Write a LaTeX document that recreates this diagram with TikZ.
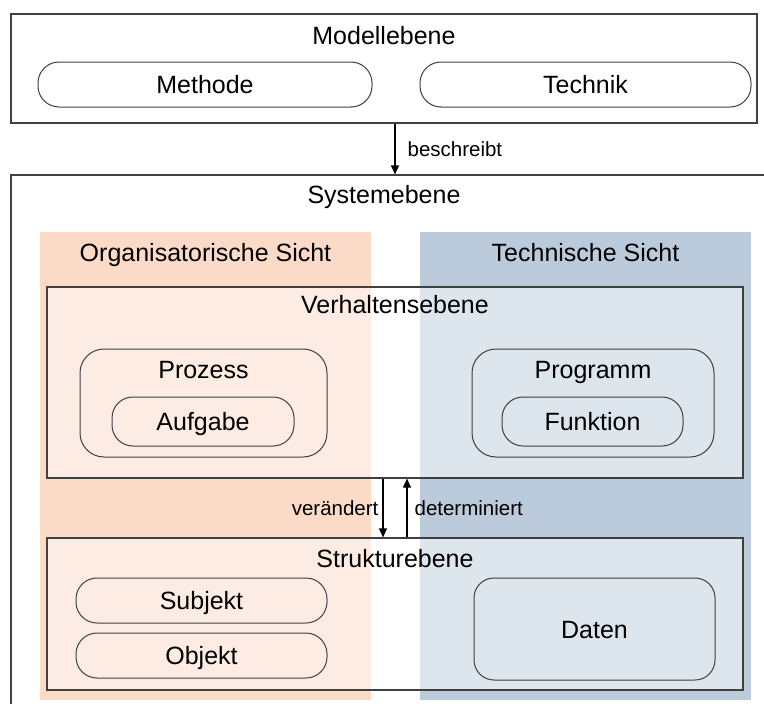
\documentclass[tikz,border=0pt]{standalone}
\usepackage{fontspec}
\setmainfont{Liberation Sans}
\usetikzlibrary{arrows.meta,positioning}
\definecolor{orgcolor}{RGB}{251,218,199}
\definecolor{techcolor}{RGB}{188,203,219}
\definecolor{linecolor}{RGB}{64,64,64}
\tikzset{
  frame/.style    = {draw=linecolor, line width=1.2pt, inner sep=0pt},
  level/.style    = {frame, fill=white, fill opacity=0.5},
  column/.style   = {inner sep=0pt},
  pill/.style     = {draw=linecolor, line width=1pt, rounded corners=21pt,
                     inner sep=0pt, text height=18pt, text depth=0pt,
                     font=\fontsize{25}{29}\selectfont},
  group/.style    = {pill, rounded corners=24pt},
  title/.style    = {anchor=base, inner sep=0pt, font=\fontsize{25}{29}\selectfont},
  conn/.style     = {-{Triangle[length=9pt,width=8pt]}, line width=1.2pt, draw=black},
  edgelabel/.style = {inner sep=0pt, font=\fontsize{20.5}{24}\selectfont}
}

\begin{document}
\begin{tikzpicture}[x=1pt,y=-1pt]
\useasboundingbox (0,0) rectangle (764,704);
\clip (0,0) rectangle (764,704);

% model level (top)
\node[frame, minimum width=746pt, minimum height=109pt] (modell) at (384,68.5) {};
\node[title] (modelllbl) at (384,44) {Modellebene};
\node[pill, minimum width=334pt, minimum height=45pt] (methode) at (205,84.5) {Methode};
\node[pill, minimum width=331pt, minimum height=45pt] (technik) at (585.5,84.5) {Technik};

% system level, runs past the page
\node[frame, minimum width=779pt, minimum height=555pt] (system) at (400.5,452.5) {};
\node[title] (systemlbl) at (384,203.5) {Systemebene};

% --- the two views ---
\node[column, fill=orgcolor, minimum width=331pt, minimum height=468pt] (orgcol) at (205.5,466) {};
\node[column, fill=techcolor, minimum width=331pt, minimum height=468pt] (techcol) at (585.5,466) {};
\node[title] (orglbl) at (205.5,261) {Organisatorische Sicht};
\node[title] (techlbl) at (585.5,261) {Technische Sicht};

% --- behaviour level ---
\node[level, minimum width=696pt, minimum height=191pt] (verhalten) at (395,382.5) {};
\node[title] (verhaltenlbl) at (395,313) {Verhaltensebene};
\node[group, minimum width=247pt, minimum height=108pt] (prozess) at (203.5,403) {};
\node[title] (prozesslbl) at (203.5,378) {Prozess};
\node[pill, minimum width=182pt, minimum height=49pt] (aufgabe) at (203,421.5) {Aufgabe};
\node[group, minimum width=242pt, minimum height=108pt] (programm) at (593,403) {};
\node[title] (programmlbl) at (593,378) {Programm};
\node[pill, minimum width=181pt, minimum height=49pt] (funktion) at (592.5,421.5) {Funktion};

% --- structure level ---
\node[level, minimum width=696pt, minimum height=152pt] (struktur) at (395,614) {};
\node[title] (strukturlbl) at (395,567) {Strukturebene};
\node[pill, minimum width=251pt, minimum height=45pt] (subjekt) at (201.5,600.5) {Subjekt};
\node[pill, minimum width=251pt, minimum height=45pt] (objekt) at (201.5,655.5) {Objekt};
\node[group, rounded corners=20pt, minimum width=241pt, minimum height=102pt] (daten) at (594.5,629) {Daten};

% --- connections ---
\draw[conn] (modell.south -| verhalten.north) -- (system.north -| verhalten.north)
  node[edgelabel, midway, right=12pt] (beschreibtlbl) {beschreibt};
\draw[conn] ([xshift=-12pt]verhalten.south) -- ([xshift=-12pt]struktur.north)
  node[edgelabel, midway, left=4pt] (veraendertlbl) {verändert};
\draw[conn] ([xshift=12pt]struktur.north) -- ([xshift=12pt]verhalten.south)
  node[edgelabel, midway, right=7pt] (determiniertlbl) {determiniert};

\end{tikzpicture}
\end{document}
